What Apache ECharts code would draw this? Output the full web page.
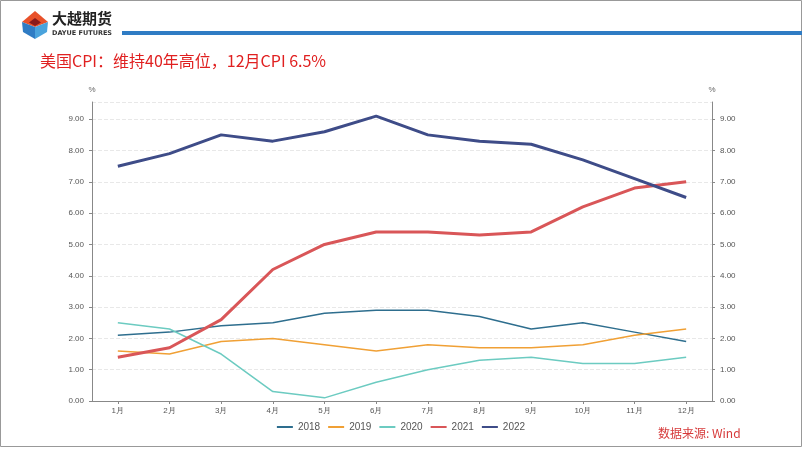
<!DOCTYPE html>
<html><head><meta charset="utf-8">
<script src="https://cdn.jsdelivr.net/npm/echarts@6/dist/echarts.min.js"></script>
<style>html,body{margin:0;padding:0;background:#fff}#c{width:802px;height:451px}</style>
</head><body><div id="c"></div>
<script>
var categories = ['1月','2月','3月','4月','5月','6月','7月','8月','9月','10月','11月','12月'];
var yTicks = [0,1,2,3,4,5,6,7,8,9];
var s2018 = [2.1,2.2,2.4,2.5,2.8,2.9,2.9,2.7,2.3,2.5,2.2,1.9];
var s2019 = [1.6,1.5,1.9,2.0,1.8,1.6,1.8,1.7,1.7,1.8,2.1,2.3];
var s2020 = [2.5,2.3,1.5,0.3,0.1,0.6,1.0,1.3,1.4,1.2,1.2,1.4];
var s2021 = [1.4,1.7,2.6,4.2,5.0,5.4,5.4,5.3,5.4,6.2,6.8,7.0];
var s2022 = [7.5,7.9,8.5,8.3,8.6,9.1,8.5,8.3,8.2,7.7,7.1,6.5];
var seriesNames = ['2018','2019','2020','2021','2022'];

var chart = echarts.init(document.getElementById('c'));
function yAx(pos){
  return {
    type:'value', position:pos, min:0, max:9.55, interval:1,
    name:'%', nameLocation:'end', nameGap:8,
    nameTextStyle:{color:'#666',fontSize:8,align:'center'},
    axisLine:{show:true,lineStyle:{color:'#888',width:1}},
    axisTick:{show:true,length:3,lineStyle:{color:'#888'}},
    axisLabel:{color:'#555',fontSize:8,formatter:function(v){return v.toFixed(2);}, showMaxLabel:false},
    splitLine:{show:pos==='left',lineStyle:{color:'#e8e8e8',type:'dashed'}}
  };
}
var colors = ['#2e6e8e','#f0a035','#6ccbc1','#d95658','#3e4c88'];
var widths = [1.5,1.5,1.5,3,3];
var data = [s2018,s2019,s2020,s2021,s2022];
var series = seriesNames.map(function(n,i){
  return {name:n,type:'line',data:data[i],symbol:'none',smooth:false,
    lineStyle:{color:colors[i],width:widths[i]},itemStyle:{color:colors[i]},z:i+2};
});
chart.setOption({
  animation:false,
  grid:{left:92,right:90,top:102,bottom:50,containLabel:false},
  xAxis:{type:'category',data:categories,boundaryGap:true,
    axisLine:{lineStyle:{color:'#888'}},
    axisTick:{show:true,alignWithLabel:true,length:3,lineStyle:{color:'#888'}},
    axisLabel:{color:'#555',fontSize:8,margin:6}},
  yAxis:[yAx('left'),yAx('right')],
  legend:{data:seriesNames,top:417,left:'center',itemWidth:16,itemHeight:2,itemGap:8,
    icon:'rect',textStyle:{color:'#555',fontSize:10}},
  series:series,
  graphic:[
    {type:'rect',shape:{x:0.5,y:0.5,width:801,height:446},style:{fill:'none',stroke:'#999',lineWidth:1}},
    {type:'rect',shape:{x:122,y:31,width:680,height:4},style:{fill:'#2f7cc4'}},
    {type:'polygon',shape:{points:[[35,11],[48,22],[35,27],[22,22]]},style:{fill:'#e8512a'}},
    {type:'polygon',shape:{points:[[22,22],[35,27],[35,39],[23,32]]},style:{fill:'#2f7cc4'}},
    {type:'polygon',shape:{points:[[48,22],[35,27],[35,39],[47,32]]},style:{fill:'#4aa3dc'}},
    {type:'polygon',shape:{points:[[35,18],[41,22.5],[35,26],[29,22.5]]},style:{fill:'#8a1a1a'}},
    {type:'text',left:52,top:11,style:{text:'大越期货',fill:'#222',font:'bold 15px "Noto Sans CJK SC"'}},
    {type:'text',left:52,top:30,style:{text:'DAYUE FUTURES',fill:'#333',font:'bold 6.5px "DejaVu Sans"'}},
    {type:'text',left:40,top:53,style:{text:'美国CPI：维持40年高位，12月CPI 6.5%',fill:'#e02020',font:'16px "Noto Sans CJK SC"'}},
    {type:'text',left:658,top:427,style:{text:'数据来源: Wind',fill:'#d63a3a',font:'12px "Noto Sans CJK SC"'}}
  ]
});
</script></body></html>
